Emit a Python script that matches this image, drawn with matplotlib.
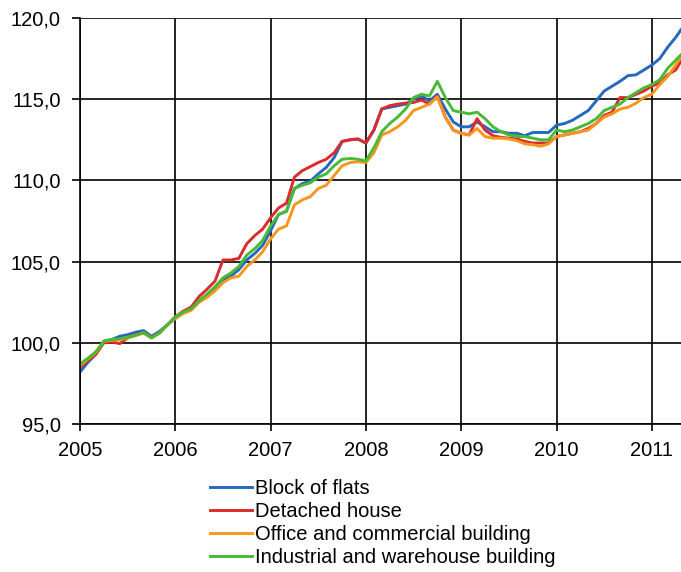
import matplotlib
matplotlib.use("Agg")
import matplotlib.pyplot as plt
import numpy as np

# monthly index values, Jan 2005 .. May 2011 (2005 = 100)
block_of_flats = [
    98.2, 98.8, 99.3, 100.1, 100.2, 100.4, 100.5, 100.65, 100.75, 100.4, 100.7, 101.1,
    101.5, 101.85, 102.1, 102.55, 102.9, 103.4, 103.9, 104.1, 104.5, 105.1, 105.5, 106.0,
    106.9, 107.9, 108.1, 109.5, 109.8, 109.95, 110.4, 110.8, 111.4, 112.4, 112.5, 112.55,
    112.3, 113.1, 114.4, 114.5, 114.6, 114.7, 115.0, 115.2, 114.9, 115.3, 114.4, 113.6,
    113.3, 113.3, 113.6, 113.3, 113.0, 113.0, 112.9, 112.9, 112.75, 112.95, 112.95, 112.95,
    113.4, 113.5, 113.7, 114.0, 114.3, 114.9, 115.5, 115.8, 116.1, 116.45, 116.5, 116.8,
    117.1, 117.5, 118.2, 118.8, 119.5,
]
detached_house = [
    98.5, 98.9, 99.3, 100.0, 100.05, 99.95, 100.3, 100.5, 100.6, 100.35, 100.6, 101.1,
    101.6, 101.95, 102.2, 102.85, 103.3, 103.8, 105.1, 105.1, 105.2, 106.1, 106.6, 107.0,
    107.7, 108.3, 108.6, 110.2, 110.6, 110.85, 111.1, 111.3, 111.7, 112.4, 112.5, 112.55,
    112.3, 113.1, 114.4, 114.6, 114.7, 114.75, 114.8, 114.95, 114.7, 115.2, 113.9, 113.1,
    112.9, 112.8, 113.8, 113.1, 112.75, 112.65, 112.6, 112.55, 112.4, 112.3, 112.3, 112.3,
    112.7, 112.8, 112.9, 113.0, 113.2, 113.5, 114.0, 114.2, 115.1, 115.1, 115.3, 115.5,
    115.8, 116.0, 116.5, 116.8, 117.6,
]
office_commercial = [
    98.6, 99.0, 99.4, 100.1, 100.15, 100.2, 100.3, 100.45, 100.6, 100.3, 100.6, 101.1,
    101.5, 101.8, 102.0, 102.5, 102.8, 103.2, 103.7, 104.0, 104.1, 104.7, 105.1, 105.6,
    106.4, 107.0, 107.2, 108.5, 108.8, 109.0, 109.5, 109.7, 110.3, 110.9, 111.1, 111.15,
    111.1, 111.7, 112.8, 113.0, 113.3, 113.7, 114.3, 114.5, 114.7, 115.15, 113.9, 113.1,
    112.9, 112.8, 113.2, 112.7, 112.6, 112.6, 112.55, 112.45, 112.25, 112.2, 112.1, 112.25,
    112.7, 112.8, 112.9, 113.0, 113.1, 113.5, 113.9, 114.1, 114.4, 114.5, 114.75, 115.1,
    115.3, 115.9, 116.4, 117.1, 117.8,
]
industrial_warehouse = [
    98.7, 99.05, 99.45, 100.1, 100.2, 100.25, 100.35, 100.45, 100.65, 100.3, 100.6, 101.1,
    101.6, 101.9, 102.1, 102.6, 103.0, 103.45, 104.0, 104.3, 104.7, 105.4, 105.8, 106.3,
    107.2, 107.9, 108.1, 109.5, 109.7, 109.85, 110.2, 110.4, 110.9, 111.3, 111.35, 111.3,
    111.2, 112.0, 113.0, 113.5, 113.9, 114.4, 115.1, 115.3, 115.2, 116.1, 115.1, 114.3,
    114.2, 114.1, 114.2, 113.8, 113.3, 113.0, 112.8, 112.7, 112.7, 112.6, 112.5, 112.5,
    113.1, 113.0, 113.1, 113.3, 113.5, 113.8, 114.3, 114.5, 114.7, 115.1, 115.4, 115.7,
    115.9, 116.2, 116.9, 117.4, 117.9,
]

labels = ["Block of flats", "Detached house",
          "Office and commercial building", "Industrial and warehouse building"]
colors = ["#2468c0", "#dd2a2a", "#f7961f", "#48bb36"]
years = [2005, 2006, 2007, 2008, 2009, 2010, 2011]
yticks = [95, 100, 105, 110, 115, 120]

plt.rcParams['font.family'] = ['Liberation Sans', 'DejaVu Sans']

x = 2005 + np.arange(len(block_of_flats)) / 12.0

fig = plt.figure(figsize=(6.81, 5.72), dpi=100)
ax = fig.add_axes([80 / 681, 1 - 424 / 572, 601 / 681, 406 / 572])

series = [block_of_flats, detached_house, office_commercial, industrial_warehouse]
for vals, lab, col in zip(series, labels, colors):
    ax.plot(x, vals, color=col, lw=2.1, label=lab, solid_joinstyle='round')

ax.set_xlim(2005, 2005 + 601 / 95.3)
ax.set_ylim(95, 120)
ax.set_xticks(years)
ax.set_xticklabels([str(y) for y in years])
ax.set_yticks(yticks)
ax.set_yticklabels([f"{v:.1f}".replace(".", ",") for v in yticks])
ax.grid(True, color='black', lw=1.2)
ax.set_axisbelow(True)
for s in ['top', 'right']:
    ax.spines[s].set_visible(False)
for s in ['left', 'bottom']:
    ax.spines[s].set_color('black')
    ax.spines[s].set_linewidth(1.2)
ax.tick_params(axis='y', length=6, width=1.2, pad=8, labelsize=14.5)
ax.tick_params(axis='x', length=5, width=1.2, pad=7, labelsize=14.5)

fig.legend(loc='upper left', bbox_to_anchor=(210 / 681, 1 - 479 / 572),
           frameon=False, fontsize=14.5, handlelength=2.1, handletextpad=0.15,
           labelspacing=0.2, borderpad=0, borderaxespad=0)

fig.savefig("out.png", dpi=100)
